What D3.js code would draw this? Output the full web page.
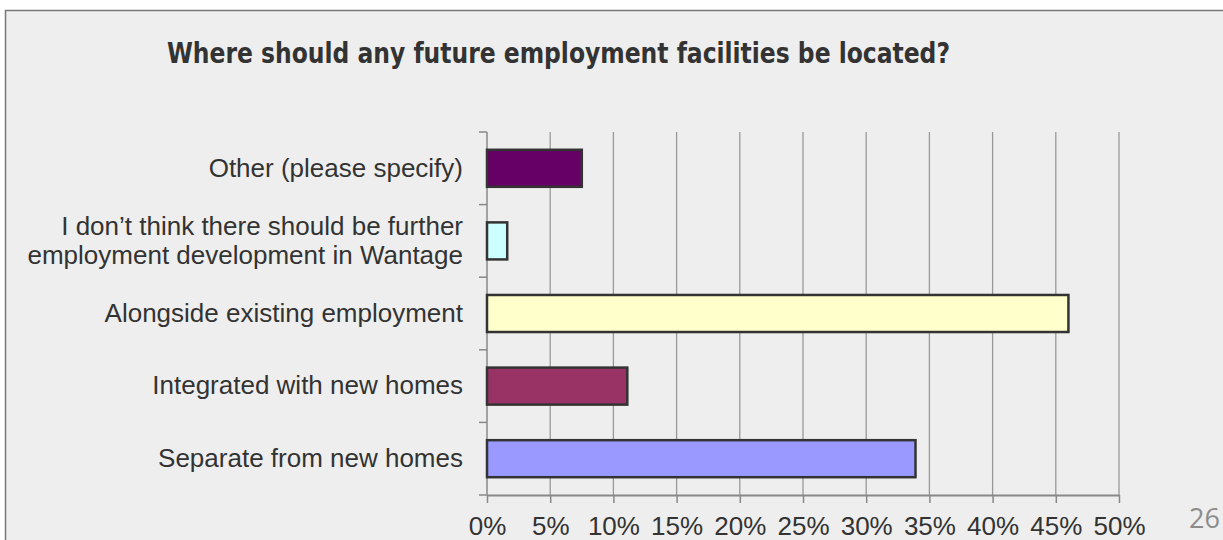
<!DOCTYPE html>
<html lang='en'>
<head>
    <meta charset='UTF-8'>
    <title>Employment facilities</title>
    <style>
        body { margin: 0; background: #fff; }
        svg { display: block; }
    </style>
</head>
<body>
<div id="chart-area"></div>
</body>
<script src='https://d3js.org/d3.v7.min.js'></script>
<script>

    // categories listed top to bottom
    const categories = [
        'Other (please specify)',
        'I don\u2019t think there should be further|employment development in Wantage',
        'Alongside existing employment',
        'Integrated with new homes',
        'Separate from new homes'
    ];
    const values = [7.5, 1.6, 46.0, 11.1, 33.9];
    const barColors = ['#660066', '#ccffff', '#ffffcc', '#993366', '#9999ff'];
    const xTicks = [0, 5, 10, 15, 20, 25, 30, 35, 40, 45, 50];
    const titleText = 'Where should any future employment facilities be located?';
    const pageNumber = '26';

    const outerWidth = 1223;
    const outerHeight = 540;
    const margin = {top: 132, right: 104, bottom: 45, left: 487};
    const width = outerWidth - margin.left - margin.right;
    const height = outerHeight - margin.top - margin.bottom;

    const svg = d3.select('#chart-area').append('svg')
        .attr('width', outerWidth)
        .attr('height', outerHeight);

    // slide panel
    svg.append('rect')
        .attr('x', 5.5).attr('y', 10.5)
        .attr('width', outerWidth + 10).attr('height', outerHeight + 10)
        .attr('fill', '#eeeeee')
        .attr('stroke', '#777')
        .attr('stroke-width', 1.5);

    svg.append('text')
        .attr('x', 167).attr('y', 63)
        .attr('textLength', 783)
        .attr('lengthAdjust', 'spacingAndGlyphs')
        .style('font-family', '"DejaVu Sans Condensed", "DejaVu Sans", sans-serif')
        .style('font-weight', 'bold')
        .style('font-size', '28px')
        .attr('fill', '#333')
        .text(titleText);

    svg.append('text')
        .attr('x', 1220).attr('y', 528)
        .attr('text-anchor', 'end')
        .style('font-family', '"Open Sans", sans-serif')
        .style('font-size', '27px')
        .attr('fill', '#8c8c8c')
        .text(pageNumber);

    const g = svg.append('g')
        .attr('transform', `translate(${margin.left}, ${margin.top})`);

    const xScale = d3.scaleLinear().domain([0, 50]).range([0, width]);
    const yScale = d3.scaleBand().domain(categories).range([0, height])
        .paddingInner(0.49).paddingOuter(0.245);

    // gridlines
    g.append('g')
        .selectAll('line')
        .data(xTicks.slice(1))
        .enter().append('line')
        .attr('x1', d => xScale(d)).attr('x2', d => xScale(d))
        .attr('y1', 0).attr('y2', height)
        .attr('stroke', '#999')
        .attr('stroke-width', 1.3);

    // y axis category ticks
    const bandStep = height / categories.length;
    g.append('g')
        .selectAll('line')
        .data(d3.range(categories.length + 1))
        .enter().append('line')
        .attr('x1', -8).attr('x2', 0)
        .attr('y1', d => d * bandStep).attr('y2', d => d * bandStep)
        .attr('stroke', '#888')
        .attr('stroke-width', 1.5);

    g.append('line')
        .attr('x1', 0).attr('x2', 0).attr('y1', 0).attr('y2', height)
        .attr('stroke', '#888').attr('stroke-width', 1.5);

    const xAxis = d3.axisBottom(xScale)
        .tickValues(xTicks)
        .tickFormat(d => d + '%')
        .tickSize(8)
        .tickSizeOuter(0)
        .tickPadding(14);

    const gx = g.append('g')
        .attr('transform', `translate(0, ${height})`)
        .call(xAxis);
    gx.select('.domain').attr('stroke', '#888').attr('stroke-width', 2);
    gx.selectAll('.tick line').attr('stroke', '#888').attr('stroke-width', 1.5);
    gx.selectAll('.tick text')
        .attr('fill', '#333')
        .style('font-family', '"Liberation Sans", Arial, sans-serif')
        .style('font-size', '26px');

    // bars
    g.append('g')
        .selectAll('rect')
        .data(categories)
        .enter().append('rect')
        .attr('x', 0)
        .attr('y', d => yScale(d))
        .attr('width', (d, i) => xScale(values[i]))
        .attr('height', yScale.bandwidth())
        .attr('fill', (d, i) => barColors[i])
        .attr('stroke', '#333')
        .attr('stroke-width', 2.5);

    // category labels
    const labels = g.append('g')
        .selectAll('text')
        .data(categories)
        .enter().append('text')
        .attr('text-anchor', 'end')
        .attr('fill', '#333')
        .style('font-family', '"Liberation Sans", Arial, sans-serif')
        .style('font-size', '26px')
        .attr('transform', d => `translate(-24, ${yScale(d) + yScale.bandwidth() / 2})`);

    labels.each(function (d) {
        const lines = d.split('|');
        const lineH = 29;
        const start = -(lines.length - 1) * lineH / 2;
        d3.select(this).selectAll('tspan')
            .data(lines)
            .enter().append('tspan')
            .attr('x', 0)
            .attr('y', (l, i) => start + i * lineH)
            .attr('dy', '0.32em')
            .text(l => l);
    });
</script>
</html>
